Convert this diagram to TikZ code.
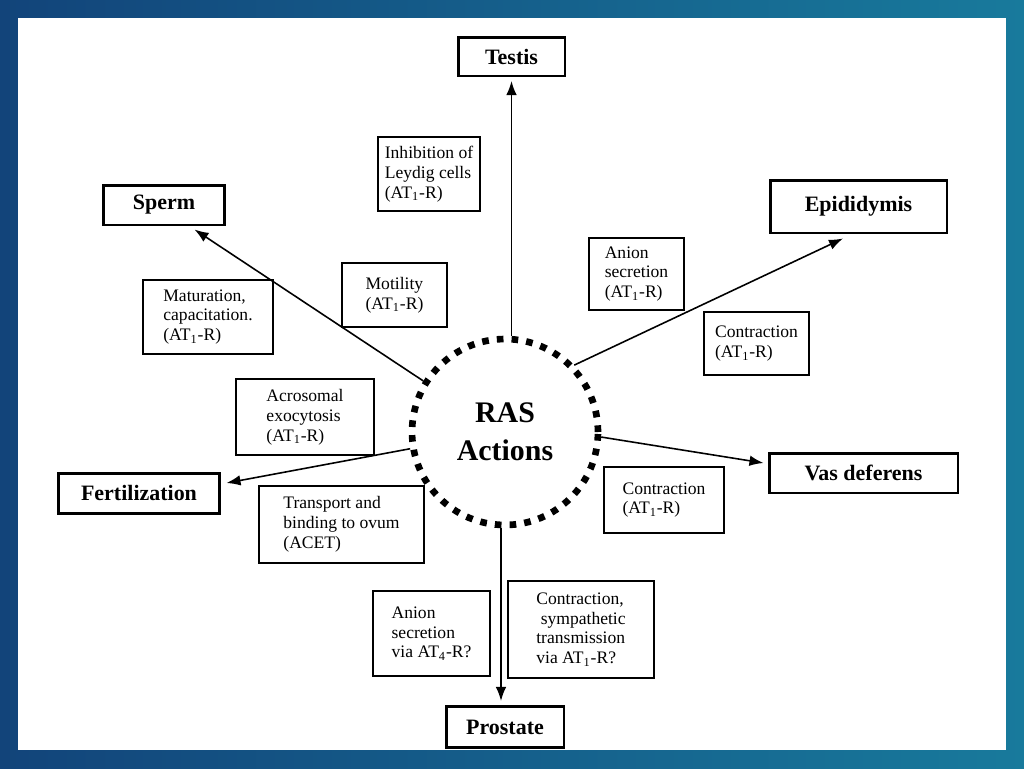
\documentclass[tikz,border=0pt]{standalone}
\usepackage{fontspec}
\setmainfont{Liberation Serif}
\usetikzlibrary{arrows.meta,calc}
\definecolor{bgL}{RGB}{18,68,122}
\definecolor{bgR}{RGB}{24,122,156}
\tikzset{
  bigbox/.style={draw, line width=1.7pt, fill=white, font=\fontsize{12.5}{14}\selectfont\bfseries, inner sep=0pt},
  smallbox/.style={draw, line width=0.7pt, fill=white, align=left, font=\fontsize{10}{11.3}\selectfont, inner sep=0pt},
  arr/.style={line width=0.9pt, -{Latex[length=8pt,width=6pt]}},
  rasnode/.style={circle, draw, line width=3.8pt, dash pattern=on 3.8pt off 4.6pt, minimum size=3.72cm, align=center, font=\fontsize{17}{21.5}\selectfont\bfseries, inner sep=0pt}
}
\newcommand{\ATone}{(AT\textsubscript{1}-R)}
\begin{document}
\begin{tikzpicture}[x=0.02cm, y=-0.02cm]
\useasboundingbox (0,0) rectangle (1024,768);
\shade[left color=bgL, right color=bgR] (0,0) rectangle (1024,768);
\fill[white] (18,18) rectangle (1006,750);

% main RAS node
\node[rasnode] (ras) at (505,432) {RAS\\Actions};

% target boxes
\node[bigbox, minimum width=2.14cm, minimum height=0.78cm] (testis) at (511.5,56.5) {Testis};
\node[bigbox, minimum width=2.44cm, minimum height=0.80cm] (sperm) at (164,205) {Sperm};
\node[bigbox, minimum width=3.54cm, minimum height=1.06cm] (epid) at (858.5,206.5) {Epididymis};
\node[bigbox, minimum width=3.78cm, minimum height=0.80cm] (vas) at (863.5,473) {Vas deferens};
\node[bigbox, minimum width=3.24cm, minimum height=0.80cm] (fert) at (139,493) {Fertilization};
\node[bigbox, minimum width=2.36cm, minimum height=0.82cm] (prost) at (505,727) {Prostate};

% label boxes
\node[smallbox, minimum width=2.04cm, minimum height=1.48cm] (inh) at (429,174) {Inhibition of\\Leydig cells\\\ATone};
\node[smallbox, minimum width=2.6cm, minimum height=1.48cm] (mat) at (208,317) {Maturation,\\capacitation.\\\ATone};
\node[smallbox, minimum width=2.1cm, minimum height=1.28cm] (mot) at (394.5,295) {Motility\\\ATone};
\node[smallbox, minimum width=1.9cm, minimum height=1.44cm] (an1) at (636.5,274) {Anion\\secretion\\\ATone};
\node[smallbox, minimum width=2.1cm, minimum height=1.26cm] (con1) at (756.5,343.5) {Contraction\\\ATone};
\node[smallbox, minimum width=2.4cm, minimum height=1.32cm] (con2) at (664,500) {Contraction\\\ATone};
\node[smallbox, minimum width=2.76cm, minimum height=1.52cm] (acro) at (305,417) {Acrosomal\\exocytosis\\\ATone};
\node[smallbox, minimum width=3.3cm, minimum height=1.54cm] (trans) at (341.5,524.5) {Transport and\\binding to ovum\\(ACET)};
\node[smallbox, minimum width=2.34cm, minimum height=1.7cm] (an4) at (431.5,633.5) {Anion\\secretion\\via AT\textsubscript{4}-R?};
\node[smallbox, minimum width=2.92cm, minimum height=1.94cm] (con3) at (581,629.5) {Contraction,\\\ sympathetic\\transmission\\via AT\textsubscript{1}-R?};

% connectors
\draw[arr, shorten >=2pt] (ras.north -| testis) -- (testis.south);
\draw[arr] (ras.148) -- ($(sperm.south east)+(-32,3)$);
\draw[arr] (ras.44) -- ($(epid.south)+(-15.5,4)$);
\draw[arr] (ras.-3.5) -- ($(vas.west)+(-4,-10)$);
\draw[arr] (ras.190) -- ($(fert.east)+(5,-10)$);
\draw[arr] ($(ras.south)+(-4,0)$) -- ($(prost.north)+(-4,-4)$);
\end{tikzpicture}
\end{document}
